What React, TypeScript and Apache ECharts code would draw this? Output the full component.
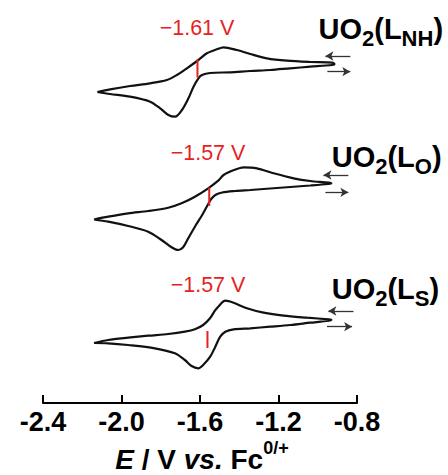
import React, { useEffect, useRef } from "react";
import * as echarts from "echarts";

// ---- axis ----
const xTickLabels = ["-2.4", "-2.0", "-1.6", "-1.2", "-0.8"];
const xMin = -2.4;
const xMax = -0.8;
const xStep = 0.4;

// ---- UO2(L_NH) voltammogram (E / V vs Fc, current a.u.) ----
const potentialNH = [-2.123, -2.058, -1.956, -1.854, -1.769, -1.718, -1.667, -1.608, -1.565, -1.514, -1.48, -1.412, -1.344, -1.259, -1.157, -1.038, -0.927, -0.915, -0.927, -1.038, -1.14, -1.242, -1.344, -1.446, -1.548, -1.59, -1.608, -1.633, -1.659, -1.692, -1.727, -1.761, -1.803, -1.854, -1.956, -2.058, -2.123];
const currentNH = [0, 2.7, 6, 8.7, 12, 17, 23.7, 32, 38.7, 42.7, 44.7, 42, 38, 33.7, 31.3, 30, 29.3, 28, 27, 25.3, 23.7, 22, 21, 19.7, 19, 17, 13.7, 5.3, -6.3, -18, -24.7, -23, -16.3, -9.7, -4.7, -2, 0];

// ---- UO2(L_O) ----
const potentialO = [-2.14, -2.068, -1.966, -1.864, -1.762, -1.694, -1.626, -1.558, -1.507, -1.48, -1.43, -1.378, -1.31, -1.225, -1.123, -1.038, -0.944, -0.931, -0.946, -1.038, -1.14, -1.242, -1.344, -1.42, -1.487, -1.522, -1.543, -1.558, -1.579, -1.592, -1.626, -1.66, -1.686, -1.711, -1.745, -1.796, -1.864, -1.966, -2.068, -2.14];
const currentO = [0, 2.8, 6.2, 8.5, 11.8, 16.2, 22.8, 31.2, 38.8, 44.5, 49.2, 52.2, 51.2, 46.2, 41.2, 38.5, 36.8, 36, 35.5, 34, 32.5, 31, 29.5, 28.5, 27, 24.5, 20.5, 15.5, 8, 3.5, -7.2, -18.8, -27.8, -30.5, -27.8, -20.5, -12.2, -6.5, -2.2, 0];

// ---- UO2(L_S) ----
const potentialS = [-2.14, -2.068, -1.966, -1.864, -1.762, -1.677, -1.626, -1.584, -1.549, -1.524, -1.507, -1.471, -1.429, -1.361, -1.276, -1.174, -1.055, -0.944, -0.931, -0.944, -1.038, -1.14, -1.242, -1.344, -1.429, -1.471, -1.497, -1.522, -1.548, -1.584, -1.609, -1.643, -1.677, -1.728, -1.83, -1.966, -2.068, -2.14];
const currentS = [0, 3, 5.3, 7.3, 9, 11.3, 13.7, 18, 24.7, 32.3, 36.3, 42.3, 40.3, 34.7, 30.3, 27.3, 25.3, 23.7, 23.3, 22.3, 20.3, 18, 16.3, 14.7, 13.7, 11.3, 6.3, -3.7, -13.7, -22, -25.3, -23, -17, -10.3, -5.3, -2, -0.3, 0];

// vertical stacking offsets (a.u.)
const traceOffsets = [311, 183.5, 60];

// E1/2 markers
const halfWaveE = [-1.613, -1.553, -1.562];
const halfWaveTop = [32.5, 32, 12];
const halfWaveBottom = [14.5, 13.5, -5];
const halfWaveLabels = ["\u22121.61 V", "\u22121.57 V", "\u22121.57 V"];

// scan direction arrows: [startE, endE, current]
const arrowUpper = [
  [-0.834, -0.961, 36],
  [-0.844, -0.971, 44.5],
  [-0.818, -0.946, 32],
];
const arrowLower = [
  [-0.951, -0.834, 20.3],
  [-0.961, -0.844, 27.2],
  [-0.953, -0.825, 16.3],
];

const complexSubscripts = ["NH", "O", "S"];

const FONT = '"Liberation Sans", Arial, Helvetica, sans-serif';
const RED = "#e5231e";

type Seg = { t: string; size: number; dy?: number; italic?: boolean; bold?: boolean };

function run(segs: Seg[], x: number, baseline: number, color: string, align: "left" | "center") {
  const ctx = document.createElement("canvas").getContext("2d")!;
  const fontOf = (s: Seg) => `${s.italic ? "italic " : ""}${s.bold === false ? "normal" : "bold"} ${s.size}px ${FONT}`;
  const widths = segs.map((s) => {
    ctx.font = fontOf(s);
    return ctx.measureText(s.t).width;
  });
  const total = widths.reduce((a, b) => a + b, 0);
  let cx = align === "center" ? x - total / 2 : x;
  return segs.map((s, i) => {
    const el = {
      type: "text",
      x: cx,
      y: baseline + (s.dy || 0) - 0.31 * s.size,
      silent: true,
      style: {
        text: s.t,
        fontSize: s.size,
        fontFamily: FONT,
        fontWeight: s.bold === false ? "normal" : "bold",
        fontStyle: s.italic ? "italic" : "normal",
        fill: color,
        textAlign: "left",
        textVerticalAlign: "middle",
      },
    };
    cx += widths[i];
    return el;
  });
}

export default function App() {
  const ref = useRef<HTMLDivElement>(null);

  useEffect(() => {
    if (!ref.current) return;
    const chart = echarts.init(ref.current, undefined, { renderer: "svg" });

    const traces = [
      [potentialNH, currentNH],
      [potentialO, currentO],
      [potentialS, currentS],
    ];

    const curveSeries = traces.map(([E, I], k) => ({
      type: "line",
      data: E.map((e, i) => [e, I[i] + traceOffsets[k]]),
      showSymbol: false,
      symbol: "none",
      smooth: 0.3,
      lineStyle: { color: "#111", width: 2.2 },
      silent: true,
      z: 2,
      markLine: {
        silent: true,
        symbol: ["none", "arrow"],
        symbolSize: [7, 8],
        label: { show: false },
        lineStyle: { color: "#333", width: 1.3, type: "solid" },
        data: [
          [
            { coord: [arrowUpper[k][0], arrowUpper[k][2] + traceOffsets[k]] },
            { coord: [arrowUpper[k][1], arrowUpper[k][2] + traceOffsets[k]] },
          ],
          [
            { coord: [arrowLower[k][0], arrowLower[k][2] + traceOffsets[k]] },
            { coord: [arrowLower[k][1], arrowLower[k][2] + traceOffsets[k]] },
          ],
        ],
      },
    }));

    const markerSeries = halfWaveE.map((e, k) => ({
      type: "line",
      data: [
        [e, halfWaveTop[k] + traceOffsets[k]],
        [e, halfWaveBottom[k] + traceOffsets[k]],
      ],
      showSymbol: false,
      symbol: "none",
      lineStyle: { color: RED, width: 2 },
      silent: true,
      z: 3,
    }));

    const redLabelPos = [
      [197, 28],
      [208, 152.5],
      [208, 285],
    ];
    const redLabels = halfWaveLabels.map((t, k) => ({
      type: "text",
      x: redLabelPos[k][0],
      y: redLabelPos[k][1],
      silent: true,
      style: {
        text: t,
        fontSize: 21.5,
        fontFamily: FONT,
        fill: RED,
        textAlign: "center",
        textVerticalAlign: "middle",
      },
    }));

    const namePos = [
      [318.5, 38],
      [331.7, 166],
      [331.7, 298],
    ];
    const nameEls = complexSubscripts.flatMap((sub, k) =>
      run(
        [
          { t: "UO", size: 29 },
          { t: "2", size: 22, dy: 7 },
          { t: "(L", size: 29 },
          { t: sub, size: 22, dy: 7 },
          { t: ")", size: 29 },
        ],
        namePos[k][0],
        namePos[k][1],
        "#000",
        "left"
      )
    );

    const titleEls = run(
      [
        { t: "E", size: 28, italic: true },
        { t: " / V ", size: 28 },
        { t: "vs.", size: 28, italic: true },
        { t: " Fc", size: 28 },
        { t: "0/+", size: 18, dy: -14 },
      ],
      202,
      468,
      "#000",
      "center"
    );

    chart.setOption({
      animation: false,
      backgroundColor: "#fff",
      grid: { left: 43, right: 91, top: 3, bottom: 72, containLabel: false },
      xAxis: {
        type: "value",
        min: xMin,
        max: xMax,
        interval: xStep,
        axisLine: { show: true, lineStyle: { color: "#000", width: 2 } },
        axisTick: { show: true, inside: true, length: 8, lineStyle: { color: "#000", width: 2 } },
        splitLine: { show: false },
        axisLabel: {
          show: true,
          margin: 8,
          lineHeight: 22,
          color: "#000",
          fontSize: 27,
          fontWeight: "bold",
          fontFamily: FONT,
          showMinLabel: true,
          showMaxLabel: true,
          formatter: (v: number) => {
            const idx = Math.round((v - xMin) / xStep);
            return xTickLabels[idx] ?? v.toFixed(1);
          },
        },
      },
      yAxis: { type: "value", min: 0, max: 400, show: false },
      series: [...curveSeries, ...markerSeries],
      graphic: [...redLabels, ...nameEls, ...titleEls],
    });

    return () => chart.dispose();
  }, []);

  return (
    <div
      ref={ref}
      style={{ position: "fixed", left: 0, top: 0, width: 448, height: 475, background: "#fff" }}
    />
  );
}
